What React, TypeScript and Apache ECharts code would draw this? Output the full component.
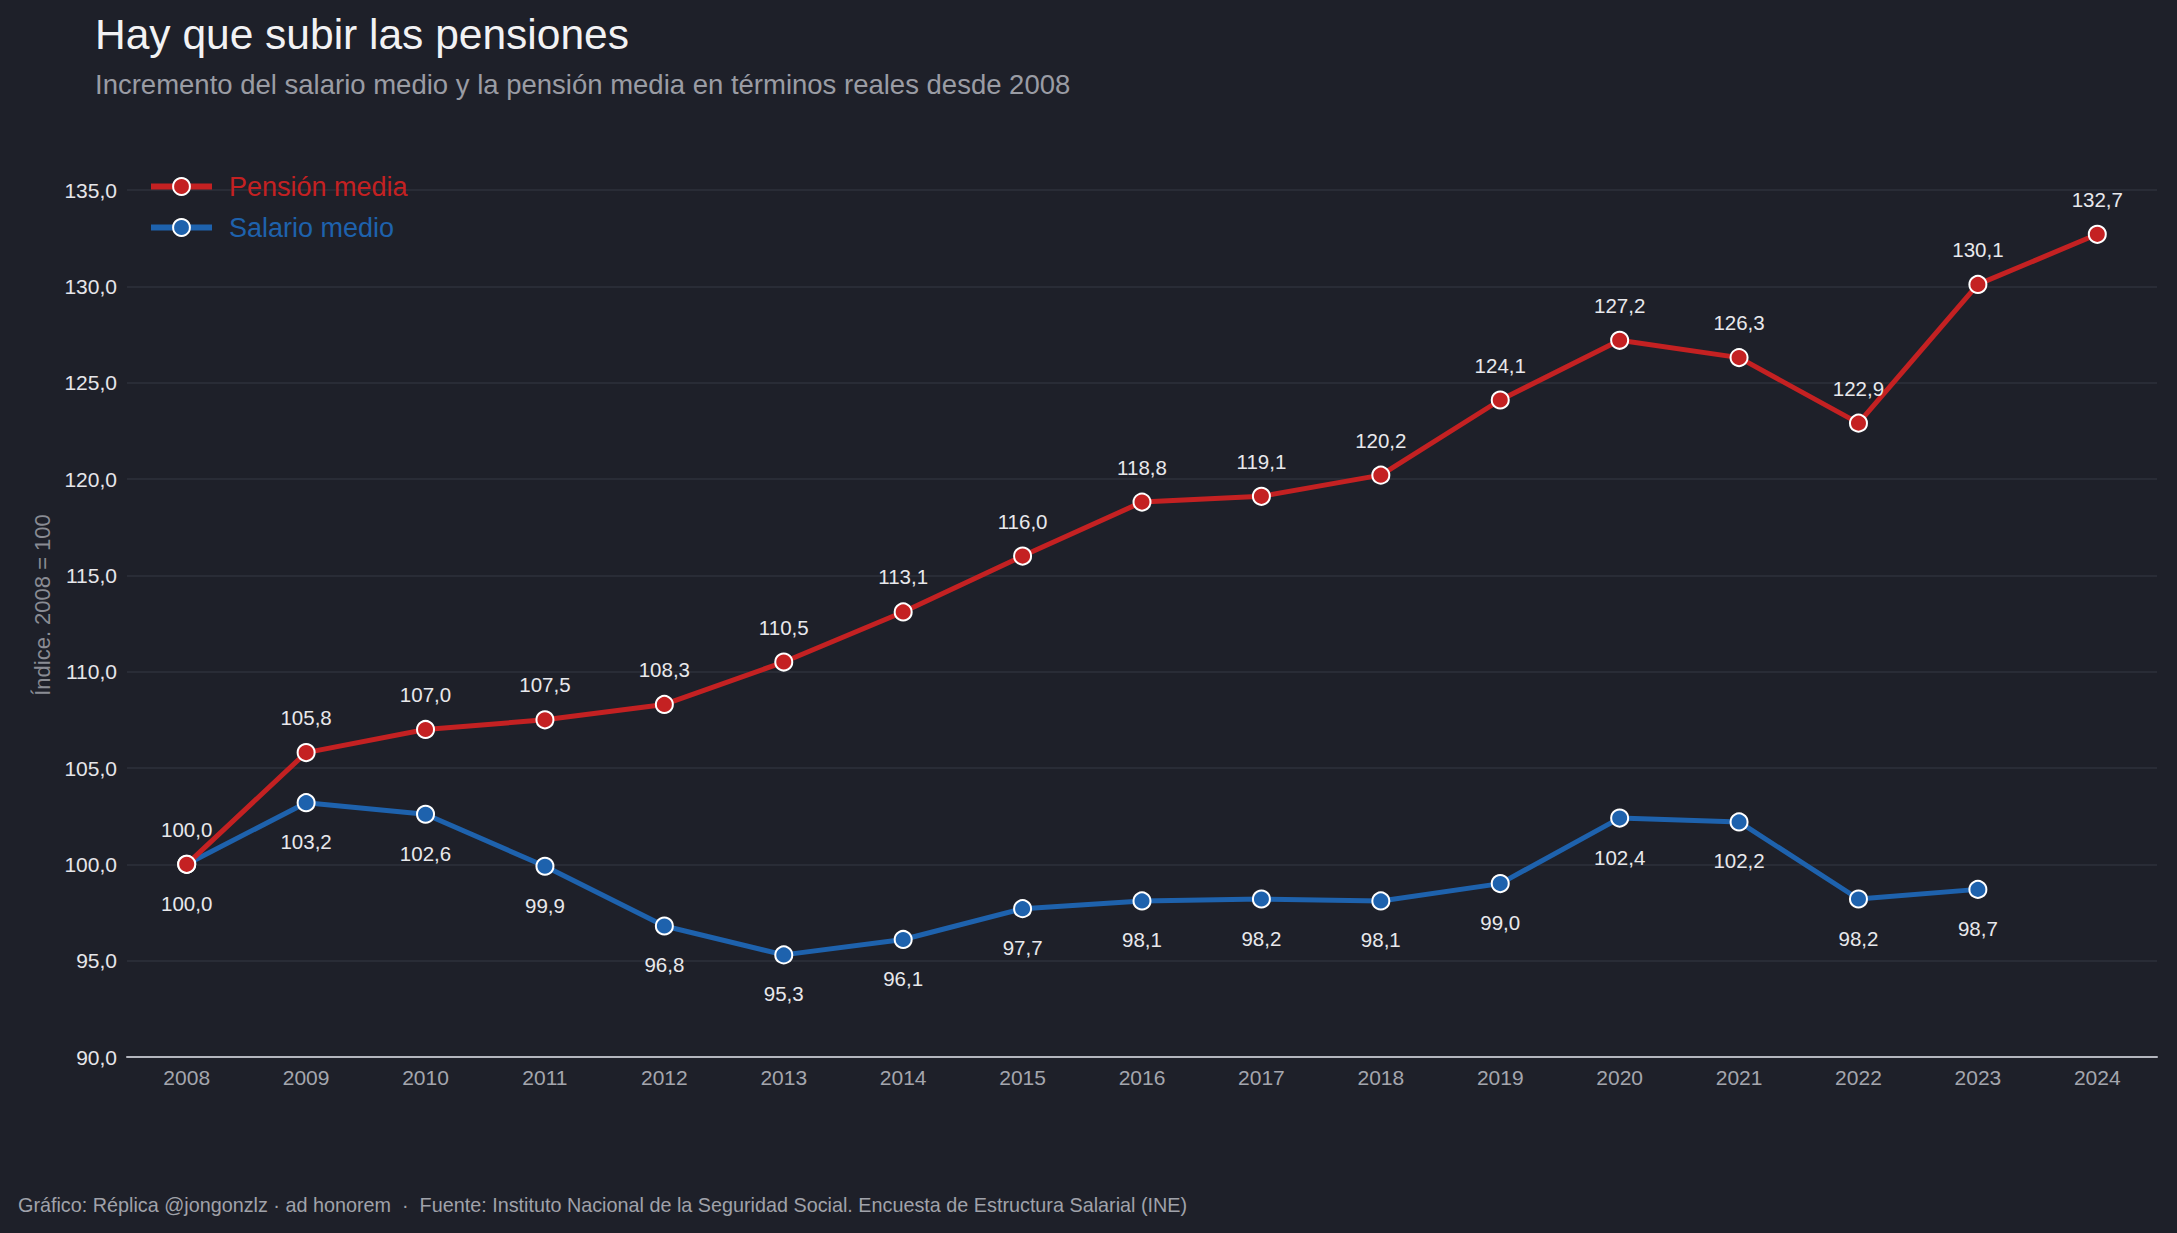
import React, { useEffect, useRef } from "react";
import * as echarts from "echarts";

const years = ["2008","2009","2010","2011","2012","2013","2014","2015","2016","2017","2018","2019","2020","2021","2022","2023","2024"];
const pension = [100.0, 105.8, 107.0, 107.5, 108.3, 110.5, 113.1, 116.0, 118.8, 119.1, 120.2, 124.1, 127.2, 126.3, 122.9, 130.1, 132.7];
const salario = [100.0, 103.2, 102.6, 99.9, 96.8, 95.3, 96.1, 97.7, 98.1, 98.2, 98.1, 99.0, 102.4, 102.2, 98.2, 98.7, null];

const TITLE = "Hay que subir las pensiones";
const SUBTITLE = "Incremento del salario medio y la pensión media en términos reales desde 2008";
const FOOTER = "Gráfico: Réplica @jongonzlz · ad honorem  ·  Fuente: Instituto Nacional de la Seguridad Social. Encuesta de Estructura Salarial (INE)";
const Y_NAME = "Índice. 2008 = 100";

const FONT = "'Liberation Sans', Arial, Helvetica, sans-serif";
const RED = "#c42122";
const BLUE = "#1e62ad";
const fmt = (v: number) => v.toFixed(1).replace(".", ",");

export default function App() {
  const ref = useRef<HTMLDivElement>(null);
  useEffect(() => {
    document.body.style.margin = "0";
    const chart = echarts.init(ref.current!, null, { renderer: "svg" });
    chart.setOption({
      animation: false,
      backgroundColor: "#1e2029",
      textStyle: { fontFamily: FONT },
      title: [
        { text: TITLE, left: 95, top: 13, padding: 0, textStyle: { color: "#f2f2f4", fontSize: 42.5, fontWeight: "normal", fontFamily: FONT } },
        { text: SUBTITLE, left: 95, top: 70, padding: 0, textStyle: { color: "#9a9ca4", fontSize: 27.5, fontWeight: "normal", fontFamily: FONT } },
        { text: FOOTER, left: 18, top: 1195, padding: 0, textStyle: { color: "#a0a2aa", fontSize: 19.8, fontWeight: "normal", fontFamily: FONT } },
      ],
      graphic: [
        {
          type: "text",
          x: 42,
          y: 605,
          rotation: Math.PI / 2,
          style: { text: Y_NAME, fill: "#8a8c94", fontSize: 22, fontFamily: FONT, align: "center", verticalAlign: "middle" },
        },
      ],
      legend: {
        data: [
          { name: "Pensión media", textStyle: { color: RED }, lineStyle: { width: 6 } },
          { name: "Salario medio", textStyle: { color: BLUE }, lineStyle: { width: 6 } },
        ],
        orient: "vertical",
        left: 148,
        top: 173,
        padding: 0,
        itemWidth: 61,
        itemHeight: 21,
        itemGap: 14,
        textStyle: { fontSize: 27, fontFamily: FONT, padding: [0, 0, 0, 12] },
      },
      grid: { left: 127, right: 20, top: 190, bottom: 176 },
      xAxis: {
        type: "category",
        data: years,
        boundaryGap: true,
        axisTick: { show: false },
        axisLine: { lineStyle: { color: "#b4b6be", width: 2 } },
        axisLabel: { color: "#a4a6ae", fontSize: 21, margin: 10, fontFamily: FONT },
        splitLine: { show: false },
      },
      yAxis: {
        type: "value",
        min: 90,
        max: 135,
        interval: 5,
        axisLine: { show: false },
        axisTick: { show: false },
        axisLabel: { color: "#e6e6ea", fontSize: 21, margin: 10, formatter: (v: number) => fmt(v), fontFamily: FONT },
        splitLine: { lineStyle: { color: "#2e303b", width: 1.5 } },
      },
      series: [
        {
          name: "Salario medio",
          type: "line",
          data: salario,
          z: 2,
          color: BLUE,
          lineStyle: { color: BLUE, width: 5 },
          symbol: "circle",
          symbolSize: 17,
          itemStyle: { color: BLUE, borderColor: "#ffffff", borderWidth: 2 },
          label: { show: true, position: "bottom", distance: 19, color: "#e8e8ec", fontSize: 20.5, fontFamily: FONT, formatter: (p: any) => fmt(p.value) },
        },
        {
          name: "Pensión media",
          type: "line",
          data: pension,
          z: 3,
          color: RED,
          lineStyle: { color: RED, width: 5 },
          symbol: "circle",
          symbolSize: 17,
          itemStyle: { color: RED, borderColor: "#ffffff", borderWidth: 2 },
          label: { show: true, position: "top", distance: 15, color: "#e8e8ec", fontSize: 20.5, fontFamily: FONT, formatter: (p: any) => fmt(p.value) },
        },
      ],
    });
    return () => chart.dispose();
  }, []);
  return <div ref={ref} style={{ width: 2177, height: 1233 }} />;
}
